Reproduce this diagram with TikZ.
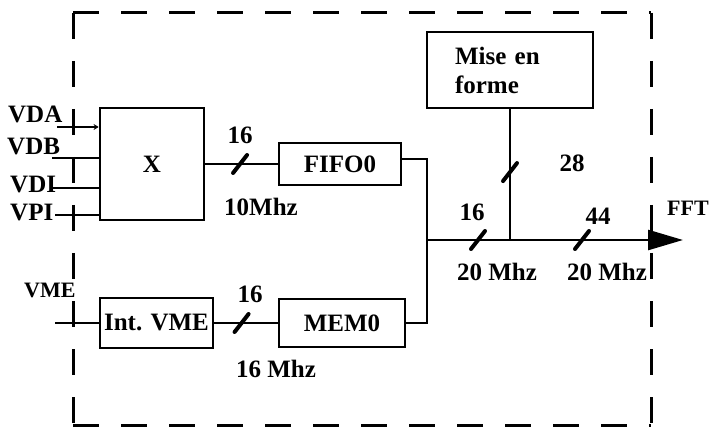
\documentclass[tikz,border=0pt]{standalone}
\usepackage{fontspec}
\setmainfont{Liberation Serif}
\usetikzlibrary{arrows.meta,calc}
\begin{document}
\begin{tikzpicture}[x=1pt,y=-1pt,
  box/.style={draw,line width=2.8pt,inner sep=0pt,font=\bfseries\fontsize{25}{29}\selectfont},
  wire/.style={line width=2.6pt},
  lbl/.style={inner sep=0pt,font=\bfseries\fontsize{25}{29}\selectfont},
  slash/.style={line width=4pt,line cap=round},
  frame/.style={line width=3pt,dash pattern=on 26pt off 22pt}
]
\useasboundingbox (0,0) rectangle (711,427);
% frame
\coordinate (fTL) at (73,13);
\coordinate (fTR) at (651,13);
\coordinate (fBL) at (73,425);
\coordinate (fBR) at (651,425);
\draw[frame] (fTL) -- (fTR);
\draw[frame] (fTL) -- (fBL);
\draw[frame] (fTR) -- (fBR);
\draw[frame] (fBL) -- (fBR);
% boxes
\node[box,minimum width=104pt,minimum height=112pt] (X) at (152,164) {X};
\node[box,minimum width=122pt,minimum height=42pt] (fifo) at (340,164) {FIFO0};
\node[box,minimum width=126pt,minimum height=48pt] (mem) at (342,323) {MEM0};
\node[box,minimum width=113pt,minimum height=50pt] (ivme) at (156.5,323) {Int. VME};
\node[box,text width=110pt,inner xsep=28pt,inner ysep=0pt,minimum height=76pt,align=left] (mise) at (510,70) {Mise en\\forme};
% inputs
\node[lbl,anchor=base west] (lvda) at (8,123) {VDA};
\node[lbl,anchor=base west] (lvdb) at (7,155) {VDB};
\node[lbl,anchor=base west] (lvdi) at (10,193) {VDI};
\node[lbl,anchor=base west] (lvpi) at (10,221) {VPI};
\node[lbl,anchor=base west,font=\bfseries\fontsize{22}{26}\selectfont] (lvme) at (24,297) {VME};
\coordinate (vdaS) at (57,127);
\coordinate (vdbS) at (52,158);
\coordinate (vdiS) at (53,188);
\coordinate (vpiS) at (55,215);
\coordinate (vmeS) at (55,323);
\draw[wire,-{Stealth[length=5pt,width=6pt]}] (vdaS) -- (vdaS -| X.west);
\draw[wire] (vdbS) -- (vdbS -| X.west);
\draw[wire] (vdiS) -- (vdiS -| X.west);
\draw[wire] (vpiS) -- (vpiS -| X.west);
\draw[wire] (vmeS) -- (ivme.west);
% connections
\coordinate (J) at (427,240);
\coordinate (tip) at (683,240);
\draw[wire] (X.east) -- coordinate[pos=0.48] (t1) (fifo.west);
\draw[wire] (ivme.east) -- coordinate[pos=0.43] (t2) (mem.west);
\draw[wire] ([yshift=5pt]fifo.east) -| (J);
\draw[wire] (mem.east) -| (J);
\draw[wire] (mise.south) -- coordinate[pos=0.48] (t3) (mise.south |- J);
\draw[wire,-{Triangle[length=35pt,width=20pt]}] (J) -- (tip);
\coordinate (t4) at (478,240);
\coordinate (t5) at (582,240);
\foreach \t in {t1,t2,t3,t4,t5}
  \draw[slash] ($(\t)+(-7,9)$) -- ($(\t)+(7,-9)$);
% labels
\node[lbl] (n16a) at (240,135) {16};
\node[lbl] (f10) at (261,207) {10Mhz};
\node[lbl] (n16b) at (250,294) {16};
\node[lbl] (f16) at (276,369) {16 Mhz};
\node[lbl] (n28) at (572,163) {28};
\node[lbl] (n16c) at (472,212) {16};
\node[lbl] (f20a) at (497,272) {20 Mhz};
\node[lbl] (n44) at (598,216) {44};
\node[lbl] (f20b) at (607,272) {20 Mhz};
\node[lbl,font=\bfseries\fontsize{22}{26}\selectfont] (fft) at (688,208) {FFT};
\end{tikzpicture}
\end{document}
